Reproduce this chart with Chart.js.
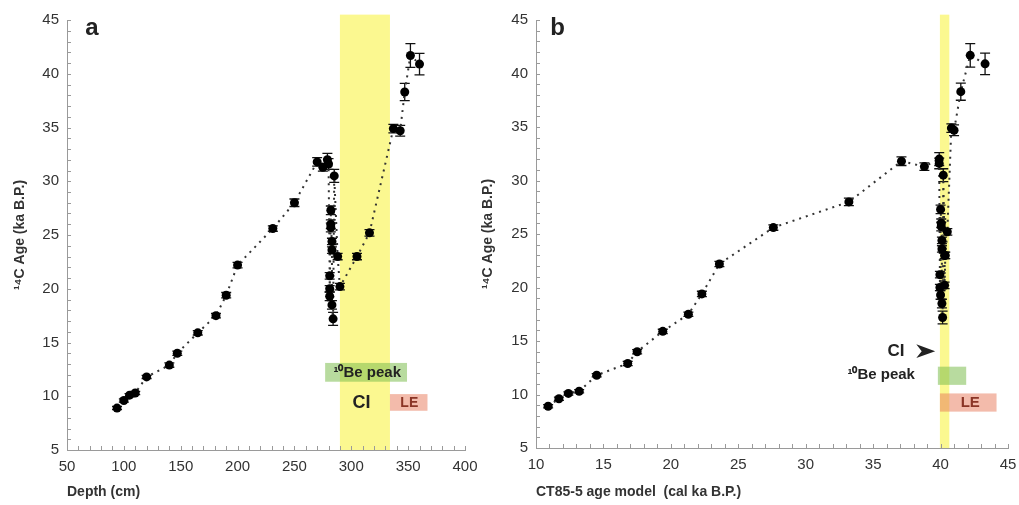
<!DOCTYPE html>
<html>
<head>
<meta charset="utf-8">
<script src="https://cdn.jsdelivr.net/npm/chart.js@4.4.0/dist/chart.umd.min.js"></script>
<style>
  body { margin: 0; background: #fff; }
  #wrap { position: relative; width: 1019px; height: 505px; }
  canvas { position: absolute; top: 0; }
</style>
</head>
<body>
<div id="wrap">
  <canvas id="chartA" width="480" height="505" style="left:0"></canvas>
  <canvas id="chartB" width="539" height="505" style="left:480px"></canvas>
</div>
<script>
// samples ordered by depth
const depthCm = [94, 100, 105, 110, 120, 140, 147, 165, 181, 190, 200, 231, 250, 270, 275,
  279, 280, 281, 281, 281, 282, 282, 282, 283, 283, 283, 284, 285, 288, 290,
  305, 316, 337, 343, 347, 352, 360];
const calAge = [10.9, 11.7, 12.4, 13.2, 14.5, 16.8, 17.5, 19.4, 21.3, 22.3, 23.6, 27.6, 33.2, 37.1, 38.8,
  39.9, 39.9, 39.95, 39.95, 40.0, 40.0, 40.05, 40.05, 40.1, 40.1, 40.1, 40.15, 40.2, 40.3, 40.3,
  40.35, 40.5, 40.8, 41.0, 41.5, 42.2, 43.3];
const c14Age = [8.9, 9.6, 10.1, 10.3, 11.8, 12.9, 14.0, 15.9, 17.5, 19.4, 22.2, 25.6, 28.0, 31.8, 31.3,
  32.0, 31.6, 21.2, 20.0, 19.3, 27.3, 26.0, 25.7, 24.4, 23.6, 18.5, 17.2, 30.5, 23.0, 20.2,
  23.0, 25.2, 34.9, 34.7, 38.3, 41.7, 40.9];
const c14Err = [0.15, 0.15, 0.15, 0.15, 0.15, 0.2, 0.2, 0.2, 0.2, 0.25, 0.25, 0.25, 0.35, 0.4, 0.35,
  0.6, 0.5, 0.3, 0.3, 0.4, 0.4, 0.4, 0.4, 0.3, 0.3, 0.4, 0.6, 0.6, 0.3, 0.3,
  0.3, 0.3, 0.4, 0.5, 0.8, 1.1, 1.0];

const ageTicks = [5, 45, 5];      // min, max, step
const depthTicks = [50, 400, 50];
const calTicks = [10, 45, 5];

// marked intervals
const ciDepth = [290, 334];
const beDepth = [277, 349];
const leDepth = [334, 367];
const ciCal = [39.95, 40.65];
const beCal = [39.8, 41.9];
const leCal = [39.95, 44.15];

const YELLOW = '#fbf890';
const GREEN = 'rgba(125,190,80,0.55)';
const SALMON = 'rgba(232,120,88,0.5)';
const FONT = "'Liberation Sans', Arial, sans-serif";

const overlay = {
  id: 'overlay',
  beforeDatasetsDraw(chart, args, opts) {
    const ctx = chart.ctx, xs = chart.scales.x, ys = chart.scales.y;
    ctx.save();
    opts.boxes.forEach(b => {
      const x0 = xs.getPixelForValue(b.x[0]), x1 = xs.getPixelForValue(b.x[1]);
      const y0 = ys.getPixelForValue(b.y[0]), y1 = ys.getPixelForValue(b.y[1]);
      ctx.fillStyle = b.color;
      ctx.fillRect(x0, y1, x1 - x0, y0 - y1);
    });
    // error bars
    ctx.strokeStyle = '#111';
    ctx.lineWidth = 1.3;
    chart.data.datasets[0].data.forEach((p, i) => {
      const e = c14Err[i];
      const px = xs.getPixelForValue(p.x);
      const yt = ys.getPixelForValue(p.y + e), yb = ys.getPixelForValue(p.y - e);
      ctx.beginPath();
      ctx.moveTo(px, yt); ctx.lineTo(px, yb);
      ctx.moveTo(px - 5, yt); ctx.lineTo(px + 5, yt);
      ctx.moveTo(px - 5, yb); ctx.lineTo(px + 5, yb);
      ctx.stroke();
    });
    ctx.restore();
  },
  afterDraw(chart, args, opts) {
    const ctx = chart.ctx, xs = chart.scales.x, ys = chart.scales.y, ca = chart.chartArea;
    ctx.save();
    // inward tick marks
    ctx.strokeStyle = '#9a9a9a';
    ctx.lineWidth = 1;
    ctx.beginPath();
    for (let v = xs.min; v <= xs.max + 1e-6; v += opts.xMinor) {
      const px = Math.round(xs.getPixelForValue(v)) + 0.5;
      ctx.moveTo(px, ca.bottom); ctx.lineTo(px, ca.bottom - 4);
    }
    for (let v = ys.min; v <= ys.max + 1e-6; v += 1) {
      const py = Math.round(ys.getPixelForValue(v)) + 0.5;
      ctx.moveTo(ca.left, py); ctx.lineTo(ca.left + 4, py);
    }
    ctx.stroke();
    // labels
    ctx.textBaseline = 'middle';
    opts.texts.forEach(t => {
      ctx.font = 'bold ' + t.size + 'px ' + FONT;
      ctx.fillStyle = t.color || '#222';
      ctx.textAlign = t.align || 'center';
      ctx.fillText(t.text, xs.getPixelForValue(t.x), ys.getPixelForValue(t.y));
    });
    if (opts.arrow) {
      ctx.fillStyle = '#222';
      ctx.beginPath();
      opts.arrow.forEach((p, i) => {
        const px = xs.getPixelForValue(p[0]), py = ys.getPixelForValue(p[1]);
        if (i === 0) ctx.moveTo(px, py); else ctx.lineTo(px, py);
      });
      ctx.closePath();
      ctx.fill();
    }
    ctx.restore();
  }
};

function makeChart(id, xVals, xTicks, xMinor, xTitle, yTitlePad, yWidth, xHeight, padRight, extras) {
  const pts = xVals.map((x, i) => ({ x: x, y: c14Age[i] }));
  return new Chart(document.getElementById(id), {
    type: 'scatter',
    data: {
      datasets: [{
        data: pts,
        showLine: true,
        borderColor: '#333',
        borderWidth: 2,
        borderDash: [2, 5],
        pointRadius: 4.5,
        pointBackgroundColor: '#000',
        pointBorderWidth: 0
      }]
    },
    options: {
      responsive: false,
      animation: false,
      layout: { padding: { left: 0, right: padRight, top: 20, bottom: 0 } },
      plugins: {
        legend: { display: false },
        tooltip: { enabled: false },
        overlay: Object.assign({ xMinor: xMinor }, extras)
      },
      scales: {
        x: {
          type: 'linear', min: xTicks[0], max: xTicks[1],
          afterFit(s) { s.height = xHeight; s.paddingLeft = 0; s.paddingRight = 0; },
          grid: { display: false, drawTicks: false },
          border: { display: true, color: '#9a9a9a', width: 1 },
          ticks: { stepSize: xTicks[2], padding: 8, color: '#333', font: { family: FONT, size: 15 } },
          title: { display: true, text: xTitle, align: 'start', color: '#333',
                   padding: { top: 0, bottom: 4 }, font: { family: FONT, size: 14, weight: 'bold' } }
        },
        y: {
          type: 'linear', min: ageTicks[0], max: ageTicks[1],
          afterFit(s) { s.width = yWidth; s.paddingTop = 0; s.paddingBottom = 0; },
          grid: { display: false, drawTicks: false },
          border: { display: true, color: '#9a9a9a', width: 1 },
          ticks: { stepSize: ageTicks[2], padding: 8, color: '#333', font: { family: FONT, size: 15 } },
          title: { display: true, text: '¹⁴C Age (ka B.P.)', color: '#333',
                   padding: { top: yTitlePad, bottom: 0 }, font: { family: FONT, size: 14, weight: 'bold' } }
        }
      }
    },
    plugins: [overlay]
  });
}

makeChart('chartA', depthCm, depthTicks, 10, 'Depth (cm)', 12, 67, 55, 15, {
  boxes: [
    { x: ciDepth, y: [5, 45.5], color: YELLOW },
    { x: beDepth, y: [11.35, 13.1], color: GREEN },
    { x: leDepth, y: [8.65, 10.2], color: SALMON }
  ],
  texts: [
    { text: 'a', x: 72, y: 44.2, size: 24 },
    { text: '¹⁰Be peak', x: 314, y: 12.2, size: 15 },
    { text: 'CI', x: 309, y: 9.4, size: 18 },
    { text: 'LE', x: 351, y: 9.35, size: 14, color: '#8b3526' }
  ]
});

makeChart('chartB', calAge, calTicks, 1, 'CT85-5 age model  (cal ka B.P.)', 0, 56, 57, 11, {
  boxes: [
    { x: ciCal, y: [5, 45.5], color: YELLOW },
    { x: beCal, y: [10.9, 12.6], color: GREEN },
    { x: leCal, y: [8.4, 10.1], color: SALMON }
  ],
  texts: [
    { text: 'b', x: 11.6, y: 44.2, size: 24 },
    { text: 'CI', x: 36.7, y: 14.05, size: 17 },
    { text: '¹⁰Be peak', x: 38.1, y: 11.8, size: 15, align: 'right' },
    { text: 'LE', x: 42.2, y: 9.2, size: 15, color: '#8b3526' }
  ],
  arrow: [[39.6, 14.05], [38.2, 14.7], [38.6, 14.05], [38.2, 13.4]]
});
</script>
</body>
</html>
